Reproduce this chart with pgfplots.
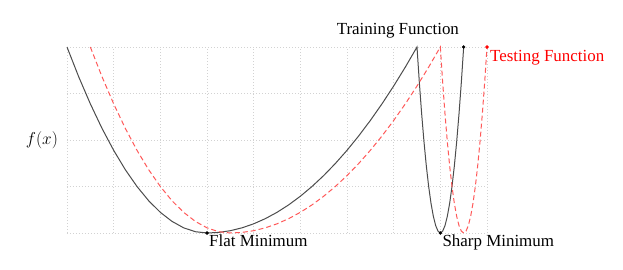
\documentclass[border=0pt]{standalone}
\usepackage{pgfplots}
\pgfplotsset{compat=1.18}
\usepackage{fontspec}
\setmainfont{Liberation Serif}
\begin{document}
\begin{tikzpicture}
\useasboundingbox (-67bp,-37bp) rectangle (556bp,233bp);
\begin{axis}[
  scale only axis, width=420bp, height=186bp,
  at={(0,0)}, anchor=south west,
  xmin=0, xmax=9, ymin=0, ymax=4,
  xtick={0,...,9}, ytick={0,...,4},
  xticklabels={}, yticklabels={},
  axis line style={draw=none}, tick style={draw=none},
  grid=major, major grid style={dash pattern=on 1bp off 2bp, gray!35, line width=0.6bp},
  clip=false,
]
\addplot[black!70, line width=1bp] coordinates {
(0,4) (0.25,3.361) (0.5,2.778) (0.75,2.25) (1,1.778) (1.25,1.361) (1.5,1) (1.75,0.694)
(2,0.444) (2.25,0.25) (2.5,0.111) (2.75,0.0278) (3,0)
(3.25,0.0123) (3.5,0.0494) (3.75,0.1111) (4,0.1975) (4.25,0.3086) (4.5,0.4444) (4.75,0.6049)
(5,0.7901) (5.25,1.0) (5.5,1.2346) (5.75,1.4938) (6,1.7778) (6.25,2.0864) (6.5,2.4198)
(6.75,2.7778) (7,3.1605) (7.25,3.5679) (7.5,4)
(7.55,3.24) (7.6,2.56) (7.65,1.96) (7.7,1.44) (7.75,1.0) (7.8,0.64) (7.85,0.36) (7.9,0.16) (7.95,0.04) (8,0)
(8.05,0.04) (8.1,0.16) (8.15,0.36) (8.2,0.64) (8.25,1.0) (8.3,1.44) (8.35,1.96) (8.4,2.56) (8.45,3.24) (8.5,4)
};
\addplot[red!65, line width=1bp, dash pattern=on 5bp off 3bp] coordinates {
(0.5,4) (0.75,3.361) (1,2.778) (1.25,2.25) (1.5,1.778) (1.75,1.361) (2,1) (2.25,0.694)
(2.5,0.444) (2.75,0.25) (3,0.111) (3.25,0.0278) (3.5,0)
(3.75,0.0123) (4,0.0494) (4.25,0.1111) (4.5,0.1975) (4.75,0.3086) (5,0.4444) (5.25,0.6049)
(5.5,0.7901) (5.75,1.0) (6,1.2346) (6.25,1.4938) (6.5,1.7778) (6.75,2.0864) (7,2.4198)
(7.25,2.7778) (7.5,3.1605) (7.75,3.5679) (8,4)
(8.05,3.24) (8.1,2.56) (8.15,1.96) (8.2,1.44) (8.25,1.0) (8.3,0.64) (8.35,0.36) (8.4,0.16) (8.45,0.04) (8.5,0)
(8.55,0.04) (8.6,0.16) (8.65,0.36) (8.7,0.64) (8.75,1.0) (8.8,1.44) (8.85,1.96) (8.9,2.56) (8.95,3.24) (9,4)
};
\addplot[only marks, mark=*, mark size=1.5bp, black] coordinates {(3,0) (8,0) (8.5,4)};
\addplot[only marks, mark=*, mark size=1.5bp, red] coordinates {(9,4)};
\node[anchor=north west, inner sep=2bp, font=\fontsize{17}{20}\selectfont] at (axis cs:3,0) {Flat Minimum};
\node[anchor=north west, inner sep=2bp, font=\fontsize{17}{20}\selectfont] at (axis cs:8,0) {Sharp Minimum};
\node[anchor=center, font=\fontsize{17}{20}\selectfont] at (axis cs:7.09,4.34) {Training Function};
\node[anchor=north west, inner sep=3bp, text=red, font=\fontsize{17}{20}\selectfont] at (axis cs:9,4) {Testing Function};
\node[anchor=east, font=\fontsize{17}{20}\selectfont] at (axis cs:-0.12,2) {$f(x)$};
\end{axis}
\end{tikzpicture}
\end{document}
